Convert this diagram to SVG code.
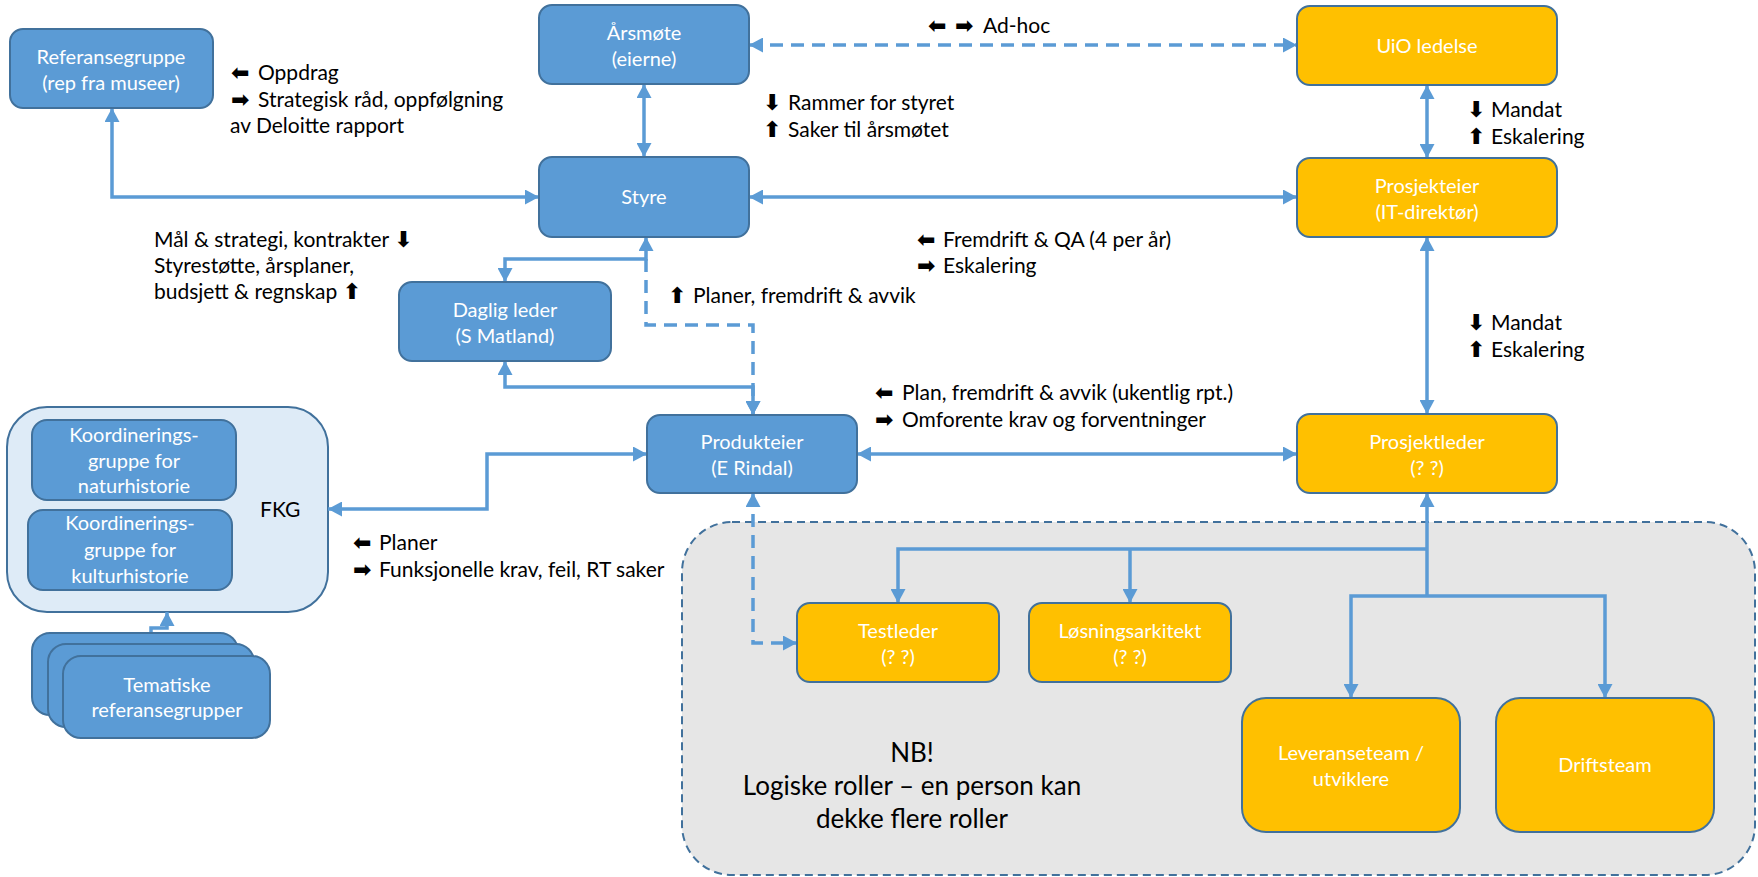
<svg xmlns="http://www.w3.org/2000/svg" width="1758" height="877" viewBox="0 0 1758 877">
<style>
.nb{fill:#5B9BD5;stroke:#41719C;stroke-width:2}
.no{fill:#FFC000;stroke:#41719C;stroke-width:2}
.nt{font-family:Lato,"Liberation Sans",sans-serif;font-size:20px;fill:#fff;text-anchor:middle}
.lb{font-family:Lato,"Liberation Sans",sans-serif;font-size:21px;fill:#000}
.nbt{font-size:26px}
.ar{font-family:"DejaVu Sans",sans-serif;font-weight:bold;font-size:22px}
.c{fill:none;stroke:#5B9BD5;stroke-width:3.5;marker-end:url(#ah)}
.b{marker-start:url(#ah)}
.d{stroke-dasharray:13 8}
</style>
<defs>
<marker id="ah" markerUnits="userSpaceOnUse" markerWidth="15" markerHeight="15" refX="14" refY="7.5" orient="auto-start-reverse">
<path d="M0,0 L14,7.5 L0,15 z" fill="#5B9BD5"/>
</marker>
</defs>
<rect width="1758" height="877" fill="#fff"/>

<g id="team-container">
<rect x="682" y="522" width="1073" height="353" rx="50" fill="#E6E6E6" stroke="#41719C" stroke-width="2" stroke-dasharray="8 5"/>
<text class="lb nbt" text-anchor="middle" x="912" y="762">NB!</text>
<text class="lb nbt" text-anchor="middle" x="912" y="795">Logiske roller – en person kan</text>
<text class="lb nbt" text-anchor="middle" x="912" y="828">dekke flere roller</text>
</g>

<g id="fkg">
<rect x="7" y="407" width="321" height="205" rx="40" fill="#DEEBF7" stroke="#41719C" stroke-width="2"/>
<text class="lb" x="260" y="517">FKG</text>
</g>

<g id="connectors">
<path class="c b" d="M112,108 V197 H539"/>
<path class="c b" d="M644,84 V157"/>
<path class="c b d" d="M749,45 H1297"/>
<path class="c b" d="M1427,85 V158"/>
<path class="c b" d="M749,197 H1297"/>
<path class="c b" d="M646,237 V259 H505 V282"/>
<path class="c d" d="M646,259 V325 H753 V415"/>
<path class="c b" d="M505,361 V387 H753 V415"/>
<path class="c b" d="M857,454 H1297"/>
<path class="c b" d="M1427,237 V414"/>
<path class="c b d" d="M753,493 V643 H797"/>
<path class="c b" d="M328,509 H487 V454 H647"/>
<path class="c" d="M151,643 V628 H167 V612"/>
<path class="c" style="marker-end:none;marker-start:url(#ah)" d="M1427,493 V596"/>
<path class="c" d="M1427,549 H898 V603"/>
<path class="c" d="M1130,549 V603"/>
<path class="c b" d="M1351,698 V596 H1605 V698"/>
</g>

<g id="labels">
<text class="lb" y="80"><tspan class="ar" x="231">⬅</tspan><tspan x="258">Oppdrag</tspan></text>
<text class="lb" y="107"><tspan class="ar" x="231">➡</tspan><tspan x="258">Strategisk råd, oppfølgning</tspan></text>
<text class="lb" x="230" y="133">av Deloitte rapport</text>
<text class="lb" y="33"><tspan class="ar" x="928">⬅</tspan><tspan class="ar" x="955">➡</tspan><tspan x="983">Ad-hoc</tspan></text>
<text class="lb" y="110"><tspan class="ar" x="763">⬇</tspan><tspan x="788">Rammer for styret</tspan></text>
<text class="lb" y="137"><tspan class="ar" x="763">⬆</tspan><tspan x="788">Saker til årsmøtet</tspan></text>
<text class="lb" y="117"><tspan class="ar" x="1467">⬇</tspan><tspan x="1491">Mandat</tspan></text>
<text class="lb" y="144"><tspan class="ar" x="1467">⬆</tspan><tspan x="1491">Eskalering</tspan></text>
<text class="lb" x="154" y="247">Mål &amp; strategi, kontrakter <tspan class="ar">⬇</tspan></text>
<text class="lb" x="154" y="273">Styrestøtte, årsplaner,</text>
<text class="lb" x="154" y="299">budsjett &amp; regnskap <tspan class="ar">⬆</tspan></text>
<text class="lb" y="247"><tspan class="ar" x="917">⬅</tspan><tspan x="943">Fremdrift &amp; QA (4 per år)</tspan></text>
<text class="lb" y="273"><tspan class="ar" x="917">➡</tspan><tspan x="943">Eskalering</tspan></text>
<text class="lb" y="303"><tspan class="ar" x="668">⬆</tspan><tspan x="693">Planer, fremdrift &amp; avvik</tspan></text>
<text class="lb" y="330"><tspan class="ar" x="1467">⬇</tspan><tspan x="1491">Mandat</tspan></text>
<text class="lb" y="357"><tspan class="ar" x="1467">⬆</tspan><tspan x="1491">Eskalering</tspan></text>
<text class="lb" y="400"><tspan class="ar" x="875">⬅</tspan><tspan x="902">Plan, fremdrift &amp; avvik (ukentlig rpt.)</tspan></text>
<text class="lb" y="427"><tspan class="ar" x="875">➡</tspan><tspan x="902">Omforente krav og forventninger</tspan></text>
<text class="lb" y="550"><tspan class="ar" x="353">⬅</tspan><tspan x="379">Planer</tspan></text>
<text class="lb" y="577"><tspan class="ar" x="353">➡</tspan><tspan x="379">Funksjonelle krav, feil, RT saker</tspan></text>
</g>

<g id="referansegruppe">
<rect class="nb" x="10" y="29" width="203" height="79" rx="13"/>
<text class="nt" x="111" y="63.5">Referansegruppe</text>
<text class="nt" x="111" y="89.5">(rep fra museer)</text>
</g>
<g id="arsmote">
<rect class="nb" x="539" y="5" width="210" height="79" rx="13"/>
<text class="nt" x="644" y="39.5">Årsmøte</text>
<text class="nt" x="644" y="65.5">(eierne)</text>
</g>
<g id="uio-ledelse">
<rect class="no" x="1297" y="6" width="260" height="79" rx="13"/>
<text class="nt" x="1427" y="52.5">UiO ledelse</text>
</g>
<g id="styre">
<rect class="nb" x="539" y="157" width="210" height="80" rx="13"/>
<text class="nt" x="644" y="204">Styre</text>
</g>
<g id="prosjekteier">
<rect class="no" x="1297" y="158" width="260" height="79" rx="13"/>
<text class="nt" x="1427" y="192.5">Prosjekteier</text>
<text class="nt" x="1427" y="218.5">(IT-direktør)</text>
</g>
<g id="daglig-leder">
<rect class="nb" x="399" y="282" width="212" height="79" rx="13"/>
<text class="nt" x="505" y="316.5">Daglig leder</text>
<text class="nt" x="505" y="342.5">(S Matland)</text>
</g>
<g id="produkteier">
<rect class="nb" x="647" y="415" width="210" height="78" rx="13"/>
<text class="nt" x="752" y="449">Produkteier</text>
<text class="nt" x="752" y="475">(E Rindal)</text>
</g>
<g id="prosjektleder">
<rect class="no" x="1297" y="414" width="260" height="79" rx="13"/>
<text class="nt" x="1427" y="448.5">Prosjektleder</text>
<text class="nt" x="1427" y="474.5">(? ?)</text>
</g>
<g id="testleder">
<rect class="no" x="797" y="603" width="202" height="79" rx="13"/>
<text class="nt" x="898" y="637.5">Testleder</text>
<text class="nt" x="898" y="663.5">(? ?)</text>
</g>
<g id="losningsarkitekt">
<rect class="no" x="1029" y="603" width="202" height="79" rx="13"/>
<text class="nt" x="1130" y="637.5">Løsningsarkitekt</text>
<text class="nt" x="1130" y="663.5">(? ?)</text>
</g>
<g id="leveranseteam">
<rect class="no" x="1242" y="698" width="218" height="134" rx="24"/>
<text class="nt" x="1351" y="760">Leveranseteam /</text>
<text class="nt" x="1351" y="786">utviklere</text>
</g>
<g id="driftsteam">
<rect class="no" x="1496" y="698" width="218" height="134" rx="24"/>
<text class="nt" x="1605" y="772">Driftsteam</text>
</g>
<g id="koord-natur">
<rect class="nb" x="32" y="420" width="204" height="80" rx="15"/>
<text class="nt" x="134" y="442">Koordinerings-</text>
<text class="nt" x="134" y="468">gruppe for</text>
<text class="nt" x="134" y="493">naturhistorie</text>
</g>
<g id="koord-kultur">
<rect class="nb" x="28" y="510" width="204" height="80" rx="15"/>
<text class="nt" x="130" y="530">Koordinerings-</text>
<text class="nt" x="130" y="557">gruppe for</text>
<text class="nt" x="130" y="583">kulturhistorie</text>
</g>
<g id="tematiske">
<rect class="nb" x="32" y="633" width="206" height="82" rx="18"/>
<rect class="nb" x="48" y="644" width="206" height="83" rx="18"/>
<rect class="nb" x="63" y="656" width="207" height="82" rx="18"/>
<text class="nt" x="167" y="692">Tematiske</text>
<text class="nt" x="167" y="717">referansegrupper</text>
</g>
</svg>
